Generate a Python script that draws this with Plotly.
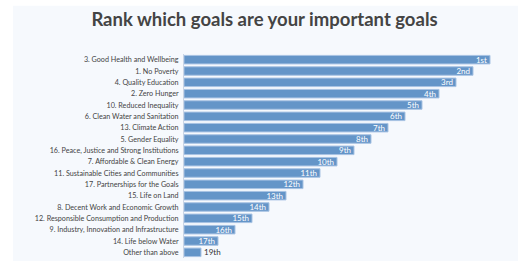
import plotly.graph_objects as go

categories = [
    "3. Good Health and Wellbeing",
    "1. No Poverty",
    "4. Quality Education",
    "2. Zero Hunger",
    "10. Reduced Inequality",
    "6. Clean Water and Sanitation",
    "13. Climate Action",
    "5. Gender Equality",
    "16. Peace, Justice and Strong Institutions",
    "7. Affordable & Clean Energy",
    "11. Sustainable Cities and Communities",
    "17. Partnerships for the Goals",
    "15. Life on Land",
    "8. Decent Work and Economic Growth",
    "12. Responsible Consumption and Production",
    "9. Industry, Innovation and Infrastructure",
    "14. Life below Water",
    "Other than above",
]
values = [18, 17, 16, 15, 14, 13, 12, 11, 10, 9, 8, 7, 6, 5, 4, 3, 2, 1]
rank_labels = ["1st", "2nd", "3rd", "4th", "5th", "6th", "7th", "8th", "9th",
               "10th", "11th", "12th", "13th", "14th", "15th", "16th", "17th", "19th"]

W, H = 518, 261
L, R, T, B = 184, 11, 53.5, 2.5
pw = W - L - R
ph = H - T - B

positions = ["inside"] * (len(values) - 1) + ["outside"]

fig = go.Figure(go.Bar(
    y=categories, x=values, orientation="h",
    text=rank_labels, textposition=positions,
    insidetextanchor="end",
    insidetextfont=dict(color="white", size=8, family="Lato"),
    outsidetextfont=dict(color="#333333", size=8, family="Lato"),
    constraintext="none",
    cliponaxis=False,
    marker=dict(color="#6495c8", line=dict(color="#a8c3e3", width=1)),
    hoverinfo="skip",
))

fig.add_shape(type="rect", xref="paper", yref="paper",
              x0=(13 - L) / pw, x1=(W + 5 - L) / pw,
              y0=-0.2, y1=1 + (T - 5) / ph,
              fillcolor="#f6f9fd", line=dict(width=0), layer="below")

fig.update_layout(
    width=W, height=H,
    margin=dict(l=L, r=R, t=T, b=B, pad=0, autoexpand=False),
    paper_bgcolor="white", plot_bgcolor="rgba(0,0,0,0)",
    bargap=0.25,
    showlegend=False,
    title=dict(text="<b>Rank which goals are your important goals</b>",
               x=264.5 / W, xanchor="center", xref="container",
               y=1 - 20 / H, yanchor="middle", yref="container",
               automargin=False,
               font=dict(family="Lato", size=18.5, color="#444444")),
    xaxis=dict(range=[0, pw / 17], visible=False, showgrid=False, zeroline=False,
               automargin=False),
    yaxis=dict(autorange="reversed", showline=True, linecolor="#c9d5e6", linewidth=1,
               showgrid=False, ticks="", ticklabelstandoff=3, automargin=False,
               tickfont=dict(family="Lato", size=7.2, color="#444444")),
    font=dict(family="Lato"),
)

fig.write_html("out.html", config={"displayModeBar": False},
               post_script="document.body.style.margin='0';document.body.style.overflow='hidden';")
